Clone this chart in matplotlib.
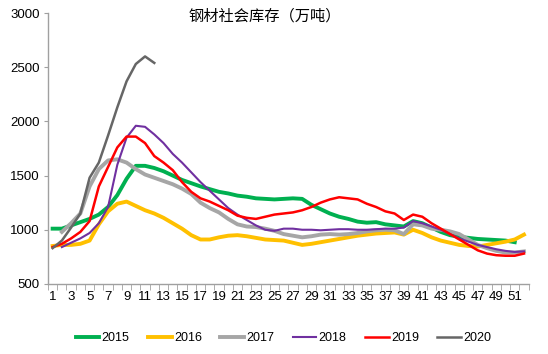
import matplotlib
matplotlib.use('Agg')
from matplotlib import pyplot as plt
from matplotlib.ticker import MultipleLocator

plt.rcParams['font.family'] = ['Liberation Sans', 'Noto Sans CJK SC']

# 周数
weeks = list(range(1, 53))

# 各年度钢材社会库存（万吨），按周
inv_2015 = [1010, 1010, 1040, 1070, 1100, 1140, 1210, 1320, 1470, 1590,
            1590, 1570, 1540, 1500, 1460, 1430, 1400, 1375, 1350, 1335,
            1315, 1305, 1290, 1285, 1280, 1285, 1290, 1285, 1230, 1190,
            1150, 1120, 1100, 1075, 1065, 1070, 1050, 1040, 1030, 1080,
            1060, 1020, 980, 950, 935, 925, 915, 910, 905, 900, 885]
inv_2016 = [850, 860, 860, 870, 900, 1050, 1170, 1240, 1260, 1220,
            1180, 1150, 1110, 1060, 1010, 950, 910, 910, 930, 945,
            950, 940, 925, 910, 905, 900, 880, 860, 870, 885,
            900, 915, 930, 945, 955, 965, 970, 975, 955, 1000,
            970, 930, 900, 880, 860, 850, 845, 860, 875, 890, 910, 955]
inv_2017 = [None, 980, 1060, 1150, 1400, 1560, 1640, 1650, 1620, 1560,
            1510, 1480, 1450, 1420, 1380, 1330, 1250, 1200, 1160, 1100,
            1050, 1030, 1025, 1010, 990, 960, 945, 930, 940, 955,
            960, 955, 960, 970, 985, 995, 1000, 995, 960, 1050,
            1040, 1010, 1000, 985, 960, 910, 860, 830, 805, 790, 790, 800]
inv_2018 = [None, 840, 880, 920, 970, 1060, 1210, 1600, 1850, 1960,
            1950, 1880, 1800, 1700, 1620, 1530, 1440, 1360, 1280, 1200,
            1140, 1090, 1040, 1000, 990, 1010, 1010, 1000, 1000, 995,
            1000, 1005, 1005, 1000, 1000, 1005, 1010, 1010, 1020, 1080,
            1060, 1030, 1000, 960, 920, 890, 860, 840, 820, 805, 795, 800]
inv_2019 = [840, 870, 920, 980, 1080, 1400, 1580, 1760, 1860, 1860,
            1800, 1680, 1620, 1550, 1440, 1350, 1290, 1260, 1220, 1180,
            1130, 1110, 1100, 1120, 1140, 1150, 1160, 1180, 1210, 1250,
            1280, 1300, 1290, 1280, 1240, 1210, 1170, 1150, 1090, 1140,
            1120, 1060, 1010, 960, 910, 860, 810, 780, 765, 760, 760, 780]
inv_2020 = [830, 900, 1020, 1150, 1480, 1620, 1870, 2130, 2370, 2530,
            2600, 2540]

series = [
    ('2015', inv_2015, '#00B050', 2.8),
    ('2016', inv_2016, '#FFC000', 2.8),
    ('2017', inv_2017, '#A6A6A6', 2.8),
    ('2018', inv_2018, '#7030A0', 1.5),
    ('2019', inv_2019, '#FF0000', 1.8),
    ('2020', inv_2020, '#666666', 1.8),
]

fig = plt.figure(figsize=(5.48, 3.54), dpi=100)
ax = fig.add_axes([0.0876, 0.198, 0.877, 0.765])

for name, vals, color, lw in series:
    xs = [w for w, v in zip(weeks, vals) if v is not None]
    ys = [v for v in vals if v is not None]
    ax.plot(xs, ys, color=color, linewidth=lw, label=name)

ax.set_xlim(0.5, 52.5)
ax.set_ylim(500, 3000)
ax.set_xticks(list(range(1, 52, 2)))
ax.xaxis.set_minor_locator(MultipleLocator(1, offset=0.5))
ax.set_yticks([500, 1000, 1500, 2000, 2500, 3000])

for side in ['top', 'right']:
    ax.spines[side].set_visible(False)
for side in ['left', 'bottom']:
    ax.spines[side].set_color('#A0A0A0')
    ax.spines[side].set_linewidth(1.0)

ax.tick_params(axis='x', which='major', length=0, labelsize=9.5, pad=5)
ax.tick_params(axis='x', which='minor', length=4, color='#A0A0A0', direction='out')
ax.tick_params(axis='y', length=3, color='#A0A0A0', labelsize=9.5, pad=3)

fig.text(0.483, 0.955, '钢材社会库存（万吨）', ha='center', va='center', fontsize=11)

ax.legend(loc='center', bbox_to_anchor=(0.49, -0.2), ncol=6, frameon=False,
          fontsize=9, handlelength=1.9, handletextpad=0.2, columnspacing=1.45)

plt.savefig('out.png', dpi=100)
